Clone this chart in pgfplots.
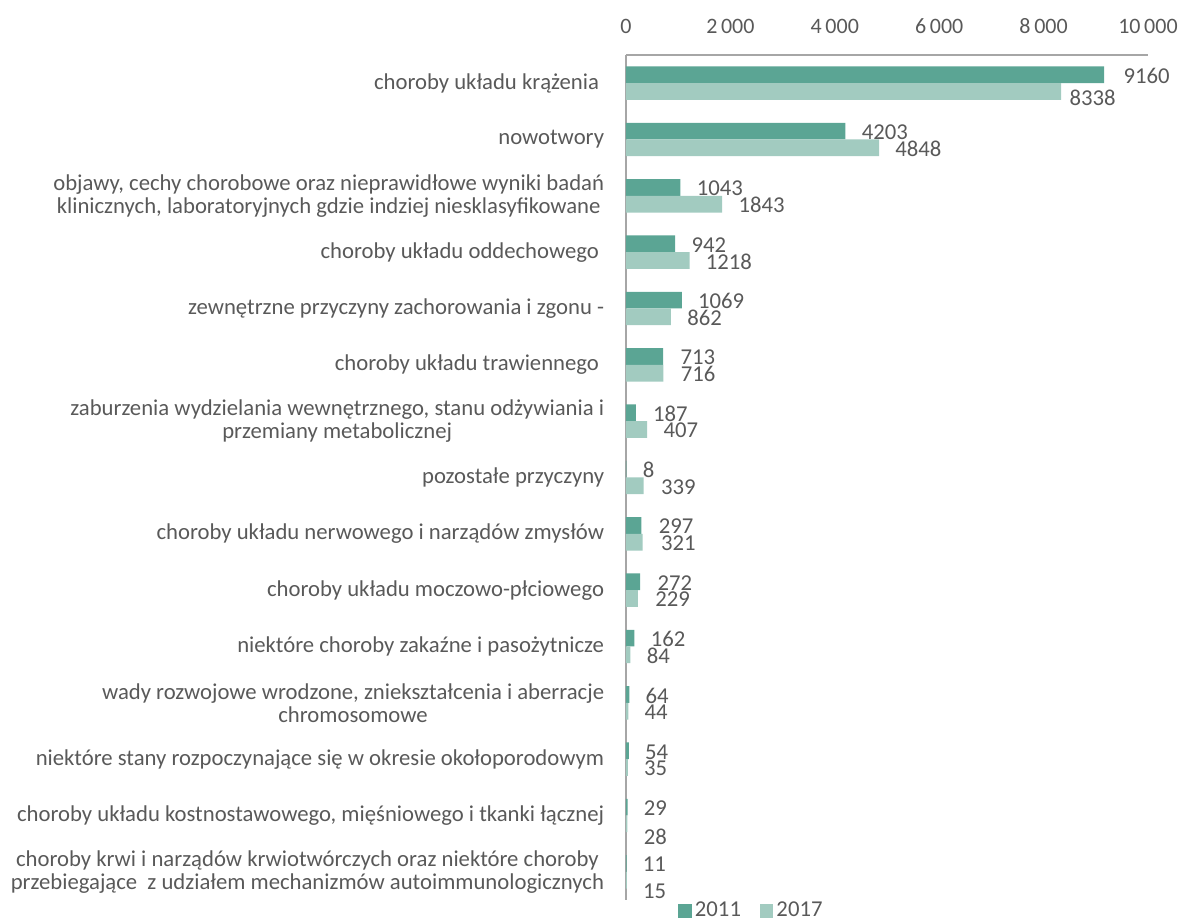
\documentclass[border=0pt]{standalone}
\usepackage{fontspec}
\setmainfont{Carlito}
\usepackage{pgfplots}
\pgfplotsset{compat=1.18}
\usepackage{pgfplotstable}
\definecolor{cA}{HTML}{5BA594}
\definecolor{cB}{HTML}{A2CBC0}
\definecolor{txt}{HTML}{595959}
\definecolor{axg}{HTML}{A6A6A6}

\pgfplotstableread{
y v dx dy
14 9160 9.5 0
13 4203 8 0
12 1043 8 0
11 942 8 0
10 1069 8 0
9 713 8.5 0
8 187 8.5 0
7 8 8 0
6 297 8.5 0
5 272 8.5 0
4 162 8 0
3 64 8 0
2 54 8 0
1 29 8 0
0 11 8 0
}\dA
\pgfplotstableread{
y v dx dy
14 8338 4 -2.75
13 4848 8 0
12 1843 8 0
11 1218 8 0
10 862 8 0
9 716 8.5 0
8 407 8 0
7 339 8.5 0
6 321 9 0
5 229 8.5 0
4 84 8 0
3 44 8 0
2 35 8 0
1 28 8 -6
0 15 8 -5
}\dB

\begin{document}
\begin{tikzpicture}
\path[use as bounding box] (-313pt,-9.5pt) rectangle (279pt,450pt);
\begin{axis}[
  at={(0,0)}, anchor=south west,
  scale only axis, width=261pt, height=422.5pt,
  xbar, bar width=8.35pt,
  xmin=0, xmax=10000, ymin=-0.5, ymax=14.5,
  axis x line*=top, axis y line*=left,
  axis line style={draw=axg, line width=0.7pt, -},
  xtick={0,2000,4000,6000,8000,10000},
  xticklabels={0,2\,000,4\,000,6\,000,8\,000,10\,000},
  xtick style={draw=none}, ytick style={draw=none},
  xticklabel style={font=\fontsize{11}{12}\selectfont, text=txt, inner sep=0pt, yshift=10.5pt},
  ytick={0,...,14},
  yticklabels={
    {choroby krwi i narządów krwiotwórczych oraz niektóre choroby\\przebiegające\ \ z udziałem mechanizmów autoimmunologicznych},
    {choroby układu kostnostawowego, mięśniowego i tkanki łącznej},
    {niektóre stany rozpoczynające się w okresie okołoporodowym},
    {wady rozwojowe wrodzone, zniekształcenia i aberracje\\chromosomowe},
    {niektóre choroby zakaźne i pasożytnicze},
    {choroby układu moczowo-płciowego},
    {choroby układu nerwowego i narządów zmysłów},
    {pozostałe przyczyny},
    {zaburzenia wydzielania wewnętrznego, stanu odżywiania i\\przemiany metabolicznej},
    {choroby układu trawiennego\ },
    {zewnętrzne przyczyny zachorowania i zgonu -},
    {choroby układu oddechowego\ },
    {objawy, cechy chorobowe oraz nieprawidłowe wyniki badań\\klinicznych, laboratoryjnych gdzie indziej niesklasyfikowane},
    {nowotwory},
    {choroby układu krążenia\ }},
  yticklabel style={font=\fontsize{11.35}{11.6}\selectfont, text=txt, align=center, inner sep=0pt, xshift=-6.5pt},
  point meta=explicit symbolic,
  nodes near coords,
  visualization depends on={\thisrow{dx} \as \dx},
  visualization depends on={\thisrow{dy} \as \dy},
  every node near coord/.append style={anchor=west, inner sep=0pt, text=txt,
     font=\fontsize{11.35}{12}\selectfont, xshift=\dx pt, yshift=\dy pt-0.5pt},
  legend columns=2,
  legend style={at={(0.2414,0)}, anchor=center, yshift=-5.5pt, draw=none, fill=none,
     font=\fontsize{11.35}{12}\selectfont, text=txt, inner sep=0pt,
     nodes={inner sep=1.5pt},
     /tikz/every even column/.append style={column sep=8pt}},
  legend image code/.code={\path[#1,draw=none] (0pt,-3.3pt) rectangle (6.75pt,3.3pt);},
]
\addplot[fill=cA, draw=none, bar shift=4.175pt] table[x=v, y=y, meta=v] {\dA};
\addplot[fill=cB, draw=none, bar shift=-4.175pt] table[x=v, y=y, meta=v] {\dB};
\legend{2011,2017}
\end{axis}
\end{tikzpicture}
\end{document}
